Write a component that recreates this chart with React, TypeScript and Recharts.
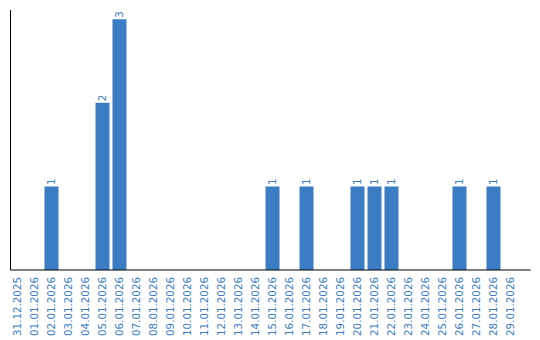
import React from 'react';
import { BarChart, Bar, XAxis, YAxis, LabelList } from 'recharts';

const categories = [
  '31.12.2025', '01.01.2026', '02.01.2026', '03.01.2026', '04.01.2026', '05.01.2026',
  '06.01.2026', '07.01.2026', '08.01.2026', '09.01.2026', '10.01.2026', '11.01.2026',
  '12.01.2026', '13.01.2026', '14.01.2026', '15.01.2026', '16.01.2026', '17.01.2026',
  '18.01.2026', '19.01.2026', '20.01.2026', '21.01.2026', '22.01.2026', '23.01.2026',
  '24.01.2026', '25.01.2026', '26.01.2026', '27.01.2026', '28.01.2026', '29.01.2026',
];
const counts = [0, 0, 1, 0, 0, 2, 3, 0, 0, 0, 0, 0, 0, 0, 0, 1, 0, 1, 0, 0, 1, 1, 1, 0, 0, 0, 1, 0, 1, 0];

const data = categories.map((c, i) => ({ date: c, value: counts[i] }));

const BLUE = '#3b7dc4';
const FONT = '"DejaVu Sans", Verdana, sans-serif';

const Tick = (props: any) => {
  const { x, y, payload } = props;
  return (
    <text
      transform={`translate(${x},${y}) rotate(-90)`}
      textAnchor="end"
      dy="0.35em"
      fill={BLUE}
      fontSize={10.3}
      fontFamily={FONT}
    >
      {payload.value}
    </text>
  );
};

const BarLabel = (props: any) => {
  const { x, y, width, value } = props;
  if (!value) return null;
  const cx = x + width / 2;
  const cy = y - 1.5;
  return (
    <text
      transform={`translate(${cx},${cy}) rotate(-90)`}
      textAnchor="start"
      dy="0.35em"
      fill={BLUE}
      fontSize={10.3}
      fontFamily={FONT}
    >
      {value}
    </text>
  );
};

export default function App() {
  return (
    <div style={{ position: 'absolute', left: 0, top: 0, width: 540, height: 340, background: '#fff' }}>
      <BarChart
        width={540}
        height={340}
        data={data}
        margin={{ top: 10, right: 9.5, bottom: 0, left: 9.5 }}
        barSize={14}
      >
        <XAxis
          dataKey="date"
          interval={0}
          height={70}
          padding={{ left: -2, right: 12 }}
          axisLine={{ stroke: '#000', strokeWidth: 1 }}
          tickLine={false}
          tickSize={0}
          tickMargin={7}
          tick={<Tick />}
        />
        <YAxis
          width={1}
          domain={[0, 3.11]}
          tick={false}
          tickLine={false}
          axisLine={{ stroke: '#000', strokeWidth: 1 }}
        />
        <Bar dataKey="value" fill={BLUE} isAnimationActive={false}>
          <LabelList dataKey="value" content={<BarLabel />} />
        </Bar>
      </BarChart>
    </div>
  );
}
